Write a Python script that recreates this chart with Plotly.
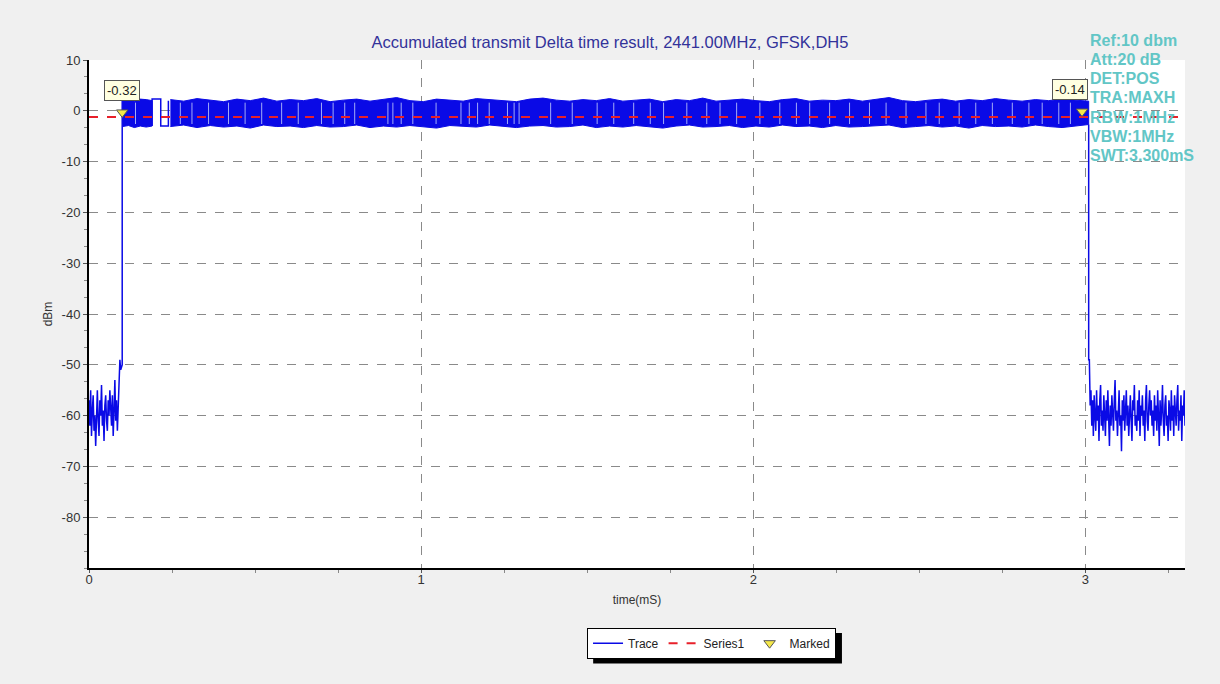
import numpy as np
import plotly.graph_objects as go

# ---------------- data ----------------
title_text = "Accumulated transmit Delta time result, 2441.00MHz, GFSK,DH5"
info_lines = ["Ref:10 dbm", "Att:20 dB", "DET:POS", "TRA:MAXH", "RBW:1MHz", "VBW:1MHz", "SWT:3.300mS"]

x_range = [0, 3.3]
y_range = [-90, 10]
y_tickvals = [10, 0, -10, -20, -30, -40, -50, -60, -70, -80]
x_tickvals = [0, 1, 2, 3]

# burst start / stop times (ms)
t_on = 0.10
t_off = 3.01

# noise floor before the burst (dBm), 0 .. ~0.098 ms
left_noise = [-57, -62, -55, -64, -59, -56, -63, -60, -66, -58, -55, -61, -64, -57, -60,
              -54, -62, -59, -65, -58, -56, -61, -63, -57, -60, -55, -58, -62, -56, -64,
              -59, -53, -61, -57, -63, -58, -52, -49, -51, -50]
left_noise_t = [0.0, 0.098]

# noise floor after the burst (dBm), t_off .. 3.3 ms
right_noise = [-49, -58, -55, -62, -57, -64, -56, -60, -63, -55, -61, -58, -65, -57, -54, -62,
               -59, -63, -56, -60, -64, -57, -61, -55, -59, -66, -58, -62, -56, -60, -63, -57,
               -53, -61, -59, -64, -58, -55, -62, -60, -67, -57, -61, -56, -63, -59, -55, -62,
               -58, -64, -60, -56, -61, -65, -57, -59, -54, -62, -60, -63, -57, -61, -55, -64,
               -58, -60, -56, -62, -59, -65, -57, -54, -61, -63, -58, -55, -60, -57, -62, -59,
               -64, -56, -61, -58, -63, -55, -60, -66, -57, -62, -59, -54, -61, -64, -58, -56,
               -62, -60, -65, -57, -59, -63, -55, -61, -58, -64, -56, -60, -62, -57, -54, -63,
               -59, -61, -56, -65, -58, -60, -55, -62]
right_noise_t = [3.012, 3.3]

# burst envelope, first piece (before the notch)
burst_a_t = [0.101, 0.19]
burst_a_hi = [2.1, 2.4, 1.9, 2.3, 2.2, 2.0]
burst_a_lo = [-3.1, -2.9, -3.3, -3.0, -3.2, -3.0]

# notch in the burst around 0.2 ms
notch_t = [0.19, 0.19, 0.216, 0.216, 0.239, 0.239]
notch_v = [-3.0, 2.3, 2.3, -3.0, -3.0, 2.0]

# burst envelope, main piece
burst_b_t = [0.245, 3.01]
burst_b_hi = [2.2, 1.9, 2.4, 2.1, 1.8, 2.3, 2.0, 2.5, 1.9, 2.2, 2.0, 2.4, 1.8, 2.1, 2.3, 1.9,
              2.2, 2.6, 2.0, 1.8, 2.3, 2.1, 1.9, 2.4, 2.2, 2.0, 1.8, 2.3, 2.5, 2.1, 1.9, 2.2,
              2.0, 2.4, 1.9, 2.1, 2.3, 1.8, 2.2, 2.0, 2.5, 1.9, 2.1, 2.3, 2.0, 1.8, 2.2, 2.4,
              1.9, 2.1, 2.0, 2.3, 1.9, 2.2, 2.6, 2.0, 1.8, 2.1, 2.3, 1.9, 2.2, 2.0, 2.4, 2.1,
              1.9, 2.2, 2.0, 2.3, 2.1, 1.9]
burst_b_lo = [-3.1, -2.8, -3.3, -2.9, -3.2, -3.0, -3.4, -2.8, -3.1, -3.0, -3.3, -2.9, -3.2,
              -3.1, -2.8, -3.3, -3.0, -3.2, -2.9, -3.1, -3.4, -2.9, -3.0, -3.2, -2.8, -3.1,
              -3.3, -3.0, -2.9, -3.2, -3.1, -2.8, -3.3, -3.0, -3.2, -2.9, -3.1, -3.4, -3.0,
              -2.8, -3.2, -3.1, -2.9, -3.3, -3.0, -3.2, -2.8, -3.1, -3.0, -3.3, -2.9, -3.2,
              -3.1, -3.0, -2.8, -3.3, -3.1, -2.9, -3.2, -3.0, -3.4, -2.9, -3.1, -3.0, -3.2,
              -2.8, -3.1, -3.3, -3.0, -2.7]

# short dips inside the burst (light vertical streaks), time in ms
gap_t = [0.14, 0.275, 0.31, 0.36, 0.42, 0.47, 0.52, 0.58, 0.63, 0.70, 0.735, 0.77, 0.80,
         0.90, 0.915, 0.94, 0.975, 1.045, 1.12, 1.145, 1.17, 1.205, 1.26, 1.28, 1.295, 1.39,
         1.455, 1.53, 1.58, 1.64, 1.69, 1.73, 1.80, 1.86, 1.90, 1.95, 2.02, 2.08, 2.13, 2.17,
         2.23, 2.29, 2.35, 2.40, 2.46, 2.52, 2.56, 2.62, 2.67, 2.72, 2.78, 2.83, 2.87, 2.92,
         2.955]
gap_top = 1.6
gap_bottom = -2.6

# Series1 reference level
series1_t = [0.0, 3.3]
series1_v = [-1.2, -1.2]

# marked points
marked_t = [0.10, 2.99]
marked_v = [-0.32, -0.14]
marked_labels = ["-0.32", "-0.14"]

# ---------------- styles ----------------
FONT = "Liberation Sans, Arial, sans-serif"
BLUE = "#0a0ae6"
PLOT_TOP, PLOT_BOTTOM = 60, 568   # pixel rows of the plot area (for paper placement)

lx = np.linspace(left_noise_t[0], left_noise_t[1], len(left_noise))
rx = np.linspace(right_noise_t[0], right_noise_t[1], len(right_noise))
ax_ = np.linspace(burst_a_t[0], burst_a_t[1], len(burst_a_hi))
bx_ = np.linspace(burst_b_t[0], burst_b_t[1], len(burst_b_hi))

fig = go.Figure()

# burst blocks (filled envelopes)
for xs, hi, lo in [(ax_, burst_a_hi, burst_a_lo), (bx_, burst_b_hi, burst_b_lo)]:
    fig.add_trace(go.Scatter(
        x=list(xs) + list(xs[::-1]), y=list(hi) + list(lo[::-1]),
        fill="toself", fillcolor=BLUE, mode="lines",
        line=dict(color=BLUE, width=1), showlegend=False, hoverinfo="skip"))

# light streaks inside the burst
gx, gy = [], []
for g in gap_t:
    gx += [g, g, None]
    gy += [gap_top, gap_bottom, None]
fig.add_trace(go.Scatter(x=gx, y=gy, mode="lines",
                         line=dict(color="rgba(190,200,250,0.85)", width=1),
                         showlegend=False, hoverinfo="skip"))

# main trace: noise, rise, notch, fall, noise
tx = list(lx) + [t_on, t_on, None] + notch_t + [None, t_off, t_off] + list(rx)
ty = list(left_noise) + [left_noise[-1], burst_a_hi[0], None] + notch_v + \
     [None, burst_b_lo[-1], right_noise[0]] + list(right_noise)
fig.add_trace(go.Scatter(x=tx, y=ty, mode="lines", name="Trace",
                         line=dict(color=BLUE, width=1.5), legendrank=1))

# Series1
fig.add_trace(go.Scatter(x=series1_t, y=series1_v, mode="lines", name="Series1",
                         line=dict(color="#e8202a", width=2, dash="dash"), legendrank=2))

# Marked
fig.add_trace(go.Scatter(x=marked_t, y=marked_v, mode="markers", name="Marked",
                         marker=dict(symbol="triangle-down", size=10, color="#f5e84a",
                                     line=dict(color="#555555", width=1)),
                         legendrank=3))

label_xshift = [0, -12]
for t, v, lab, xs in zip(marked_t, marked_v, marked_labels, label_xshift):
    fig.add_annotation(x=t, y=v, text=lab, showarrow=False, yshift=22, xshift=xs,
                       bgcolor="#ffffe1", bordercolor="#555555", borderwidth=1, borderpad=2,
                       font=dict(family=FONT, size=13, color="#222222"))

# instrument settings, one line each
line_step = 19.3
for i, txt in enumerate(info_lines):
    ypix = 40 + i * line_step
    fig.add_annotation(xref="paper", yref="paper", x=0.9115,
                       y=(PLOT_BOTTOM - ypix) / (PLOT_BOTTOM - PLOT_TOP),
                       xanchor="left", yanchor="middle", align="left", showarrow=False,
                       text=txt, font=dict(family=FONT, size=16, color="#62c6c6", weight="bold"))

# legend drop shadow
fig.add_shape(type="rect", xref="paper", yref="paper", x0=0.460, x1=0.687, y0=-0.188, y1=-0.128,
              fillcolor="#000000", line=dict(width=0), layer="above")

fig.update_layout(
    width=1220, height=684,
    paper_bgcolor="#f0f0f0", plot_bgcolor="#ffffff",
    margin=dict(l=89, r=35, t=60, b=116),
    font=dict(family=FONT, size=12, color="#333333"),
    title=dict(text=title_text, x=0.5, xanchor="center", y=1 - 42 / 684, yanchor="middle",
               font=dict(family=FONT, size=16.5, color="#33339a")),
    legend=dict(orientation="h", x=0.568, y=-0.148, xanchor="center", yanchor="middle",
                bgcolor="#ffffff", bordercolor="#000000", borderwidth=1,
                font=dict(family=FONT, size=12, color="#222222"), itemwidth=30),
    showlegend=True,
)

fig.update_xaxes(range=x_range, tickvals=x_tickvals, ticktext=[str(v) for v in x_tickvals],
                 showline=True, linecolor="#000000", linewidth=2, mirror=False,
                 ticks="outside", ticklen=3, tickcolor="#555555", ticklabelstandoff=-5,
                 showgrid=True, gridcolor="#8a8a8a", griddash="dash", gridwidth=1,
                 zeroline=False, tickfont=dict(size=13, color="#333333"),
                 title=dict(text="time(mS)", font=dict(size=12, color="#333333"), standoff=10),
                 minor=dict(tickmode="linear", tick0=0, dtick=0.25, ticks="outside",
                            ticklen=3, tickcolor="#888888", showgrid=False))
fig.update_yaxes(range=y_range, tickvals=y_tickvals, ticktext=[str(v) for v in y_tickvals],
                 showline=True, linecolor="#000000", linewidth=2, mirror=False,
                 ticks="outside", ticklen=4, tickcolor="#555555",
                 showgrid=True, gridcolor="#8a8a8a", griddash="dash", gridwidth=1,
                 zeroline=False, tickfont=dict(size=13, color="#333333"),
                 title=dict(text="dBm", font=dict(size=12, color="#333333"), standoff=6),
                 minor=dict(tickmode="linear", tick0=0, dtick=10 / 3, ticks="outside",
                            ticklen=3, tickcolor="#888888", showgrid=False))

fig.write_html("out.html", config={"displayModeBar": False},
               post_script="document.body.style.margin='0px';")
